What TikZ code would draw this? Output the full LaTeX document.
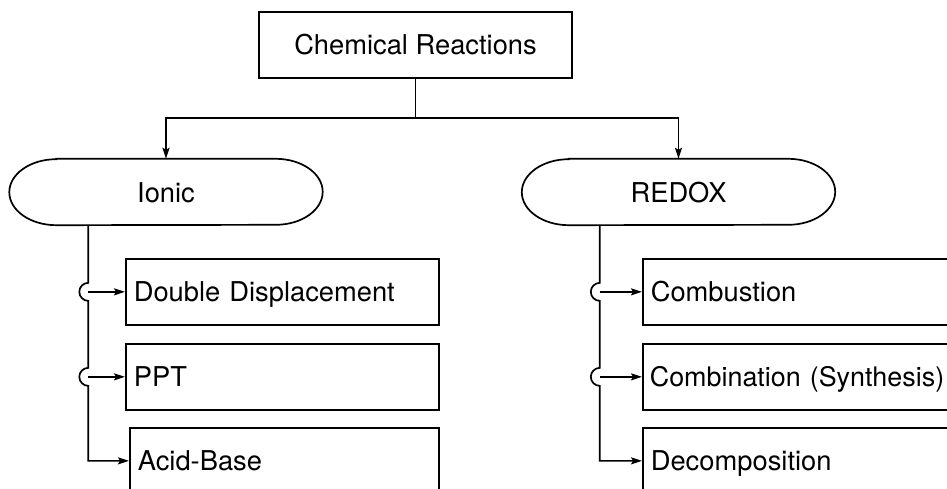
\documentclass[tikz,border=0pt]{standalone}
\usepackage{fontspec}
\setmainfont{TeX Gyre Heros}
\usetikzlibrary{arrows.meta,calc}
\begin{document}
\begin{tikzpicture}[x=1pt,y=-1pt,
  every node/.style={font=\fontsize{27.3}{33}\selectfont, text height=20pt, text depth=0pt, inner ysep=0pt},
  ln/.style={line width=1.7pt},
  arr/.style={line width=1.7pt, -{Stealth[length=11pt,width=7pt,inset=2pt]}},
  titlebox/.style={draw, line width=1.7pt, minimum width=313pt, minimum height=66pt, inner xsep=0pt},
  leafbox/.style={draw, line width=1.7pt, anchor=north west, text width=297pt, inner xsep=8pt, align=left, minimum height=66pt},
  term/.style={minimum width=313pt, minimum height=66pt, inner xsep=0pt}
]
\useasboundingbox (0,0) rectangle (947,489);
\clip (0,0) rectangle (947,489);
% nodes
\node[titlebox] (top) at (415.5,45) {Chemical Reactions};
\node[term] (ion) at (166,192) {Ionic};
\node[term] (red) at (678.5,192) {REDOX};
\node[leafbox] (dd) at (125,258) {Double Displacement};
\node[leafbox] (pp) at (125,343) {PPT};
\node[leafbox, text width=293pt] (ac) at (129,427) {Acid-Base};
\node[leafbox, text width=340pt] (cb) at (642,258) {Combustion};
\node[leafbox, text width=340pt, inner xsep=7pt, font=\fontsize{26.9}{33}\selectfont] (cs) at (642,343) {Combination (Synthesis)};
\node[leafbox, text width=340pt] (dc) at (642,427) {Decomposition};
% terminal outlines
\foreach \n in {ion,red}{
  \draw[ln] ([xshift=47pt]\n.north west) -- ([xshift=-47pt]\n.north east)
    arc[start angle=90,end angle=-90,x radius=47pt,y radius=33pt]
    -- ([xshift=47pt]\n.south west)
    arc[start angle=270,end angle=90,x radius=47pt,y radius=33pt] -- cycle;
}
% top connectors
\coordinate (j) at (415.5,118);
\draw[ln] (top.south) -- (j);
\draw[arr] (j) -| (ion.north);
\draw[arr] (j) -| (red.north);
% left branch
\coordinate (ia) at ([xshift=79pt]ion.south west);
\draw[arr] (ia) -- ($(ia |- dd.west)+(0,-9)$)
  arc[start angle=90,end angle=270,radius=9pt]
  -- ($(ia |- pp.west)+(0,-9)$)
  arc[start angle=90,end angle=270,radius=9pt]
  -- (ia |- ac.west) -- (ac.west);
\draw[arr] (ia |- dd.west) -- (dd.west);
\draw[arr] (ia |- pp.west) -- (pp.west);
% right branch
\coordinate (ra) at ([xshift=78pt]red.south west);
\draw[arr] (ra) -- ($(ra |- cb.west)+(0,-9)$)
  arc[start angle=90,end angle=270,radius=9pt]
  -- ($(ra |- cs.west)+(0,-9)$)
  arc[start angle=90,end angle=270,radius=9pt]
  -- (ra |- dc.west) -- (dc.west);
\draw[arr] (ra |- cb.west) -- (cb.west);
\draw[arr] (ra |- cs.west) -- (cs.west);
\end{tikzpicture}
\end{document}
